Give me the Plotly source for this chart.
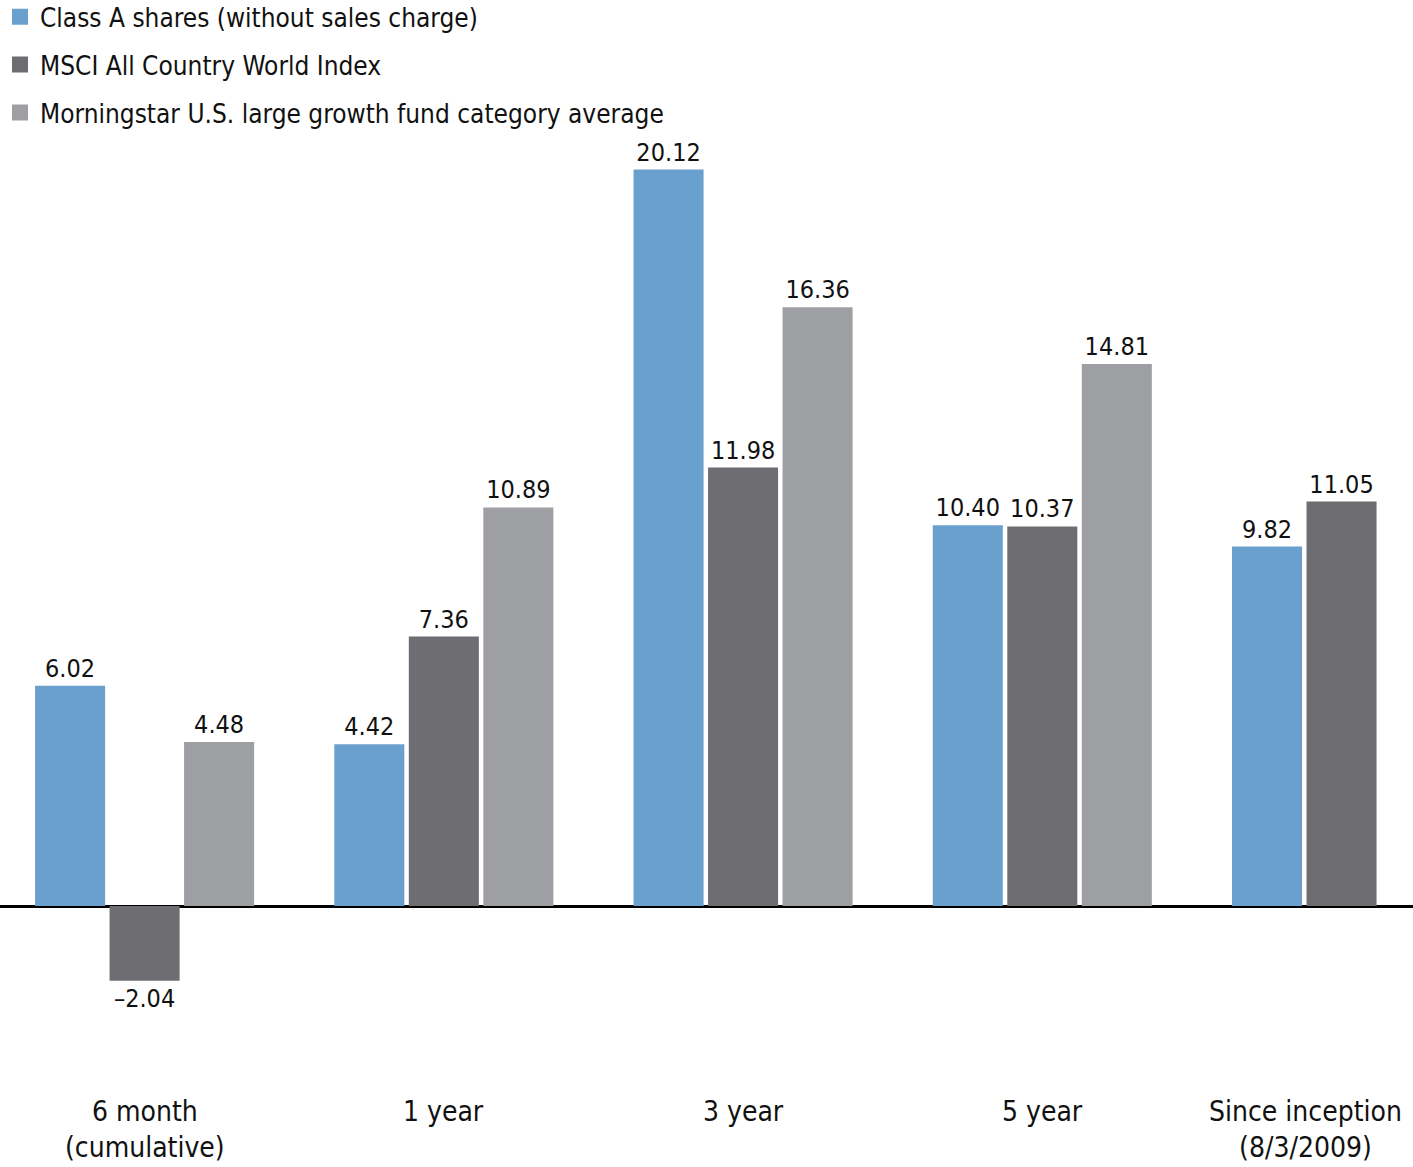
import plotly.graph_objects as go

categories = ["6 month<br>(cumulative)", "1 year", "3 year", "5 year", "Since inception<br>(8/3/2009)"]
series_names = [
    "Class A shares (without sales charge)",
    "MSCI All Country World Index",
    "Morningstar U.S. large growth fund category average",
]
class_a = [6.02, 4.42, 20.12, 10.40, 9.82]
msci_acwi = [-2.04, 7.36, 11.98, 10.37, 11.05]
morningstar = [4.48, 10.89, 16.36, 14.81, None]

colors = ["#6aa0cd", "#6e6d71", "#9d9fa2"]
FONT = "DejaVu Sans Condensed, Liberation Sans Narrow, sans-serif"


def fmt(v):
    if v is None:
        return ""
    return f"{v:.2f}".replace("-", "\u2013")


fig = go.Figure()
for i, (name, vals) in enumerate(zip(series_names, [class_a, msci_acwi, morningstar])):
    fig.add_trace(go.Bar(
        name=name,
        x=categories,
        y=vals,
        text=[fmt(v) for v in vals],
        textposition="outside",
        textfont=dict(family=FONT, size=25, color="#111111"),
        marker=dict(color=colors[i], line=dict(width=0)),
        cliponaxis=False,
        showlegend=False,
        hoverinfo="skip",
    ))

# legend entries (square swatches)
for i, name in enumerate(series_names):
    fig.add_trace(go.Scatter(
        name=name, x=[None], y=[None], mode="markers",
        marker=dict(symbol="square", size=20, color=colors[i]),
        legendgroup=f"g{i}", showlegend=True, hoverinfo="skip",
    ))

annotations = []
for j, cat in enumerate(categories):
    annotations.append(dict(
        x=cat, xref="x", y=-0.028, yref="paper",
        text=cat, showarrow=False, yanchor="top",
        xshift=-36 if j == len(categories) - 1 else 0,
        font=dict(family=FONT, size=28, color="#111111"),
    ))

fig.update_layout(
    width=1413, height=1167,
    margin=dict(l=0, r=0, t=130, b=100, autoexpand=False),
    paper_bgcolor="white", plot_bgcolor="white",
    barmode="group", bargap=0.253, bargroupgap=0.06,
    showlegend=True,
    legend=dict(
        x=0.0, y=1.1458, xanchor="left", yanchor="top",
        font=dict(family=FONT, size=26, color="#111111"),
        tracegroupgap=11, itemclick=False, itemdoubleclick=False,
        itemsizing="trace", itemwidth=30,
        bgcolor="rgba(0,0,0,0)",
    ),
    xaxis=dict(range=[-0.4832, 4.2388], showticklabels=False, showgrid=False,
               zeroline=False, showline=False, ticks=""),
    yaxis=dict(range=[-4.399, 21.202], showticklabels=False, showgrid=False,
               zeroline=True, zerolinecolor="#000000", zerolinewidth=2.5,
               showline=False, ticks=""),
    annotations=annotations,
)

fig.write_html("out.html")
